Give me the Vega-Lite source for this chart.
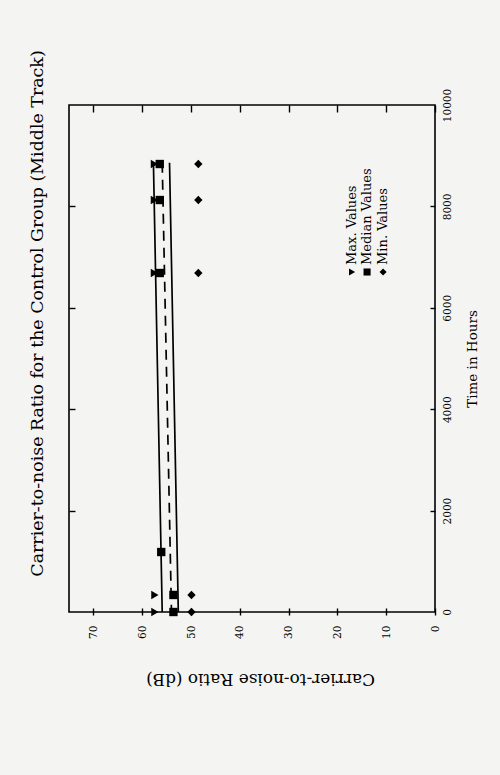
{
  "$schema": "https://vega.github.io/schema/vega-lite/v6.json",
  "width": 366,
  "height": 507,
  "autosize": {"type": "none"},
  "padding": {"left": 69, "top": 105, "right": 65, "bottom": 163},
  "background": "#f4f4f2",
  "config": {
    "view": {"stroke": "black", "strokeWidth": 1.6},
    "font": "DejaVu Serif",
    "axis": {"labelFont": "DejaVu Serif", "titleFont": "DejaVu Serif", "labelColor": "black", "titleColor": "black", "tickColor": "black", "tickWidth": 1.4, "grid": false, "domain": false}
  },
  "title": {
    "text": "Carrier-to-noise Ratio for the Control Group (Middle Track)",
    "orient": "left",
    "anchor": "middle",
    "font": "DejaVu Serif",
    "fontSize": 17.4,
    "fontWeight": "normal",
    "color": "black",
    "offset": 22,
    "dx": 45
  },
  "datasets": {
    "points": [
      {"stat": "Max. Values", "hours": 0, "cn": 57.4},
      {"stat": "Max. Values", "hours": 336, "cn": 57.4},
      {"stat": "Max. Values", "hours": 6686, "cn": 57.5},
      {"stat": "Max. Values", "hours": 8126, "cn": 57.5},
      {"stat": "Max. Values", "hours": 8836, "cn": 57.5},
      {"stat": "Median Values", "hours": 0, "cn": 53.6},
      {"stat": "Median Values", "hours": 336, "cn": 53.6},
      {"stat": "Median Values", "hours": 1183, "cn": 56.1},
      {"stat": "Median Values", "hours": 6686, "cn": 56.4},
      {"stat": "Median Values", "hours": 8126, "cn": 56.4},
      {"stat": "Median Values", "hours": 8836, "cn": 56.4},
      {"stat": "Min. Values", "hours": 0, "cn": 49.9},
      {"stat": "Min. Values", "hours": 336, "cn": 49.9},
      {"stat": "Min. Values", "hours": 6686, "cn": 48.5},
      {"stat": "Min. Values", "hours": 8126, "cn": 48.5},
      {"stat": "Min. Values", "hours": 8836, "cn": 48.5}
    ],
    "fits": [
      {"fit": "upper", "hours": 0, "cn": 55.9},
      {"fit": "upper", "hours": 8860, "cn": 57.7},
      {"fit": "center", "hours": 0, "cn": 54.0},
      {"fit": "center", "hours": 8860, "cn": 55.9},
      {"fit": "lower", "hours": 0, "cn": 52.6},
      {"fit": "lower", "hours": 8860, "cn": 54.4}
    ],
    "one": [{}]
  },
  "layer": [
    {
      "data": {"name": "fits"},
      "mark": {"type": "line", "color": "black", "strokeWidth": 1.7},
      "encoding": {
        "x": {"field": "cn", "type": "quantitative", "scale": {"domain": [0, 75], "reverse": true, "nice": false, "zero": false},
          "axis": {"orient": "top", "values": [0, 10, 20, 30, 40, 50, 60, 70], "labels": false, "title": null, "offset": -7, "tickSize": 7}},
        "y": {"field": "hours", "type": "quantitative", "scale": {"domain": [0, 10000], "nice": false},
          "axis": {"orient": "left", "values": [2000, 4000, 6000, 8000], "labels": false, "title": null, "offset": -6, "tickSize": 6}},
        "detail": {"field": "fit"},
        "strokeDash": {"field": "fit", "type": "nominal", "scale": {"domain": ["upper", "center", "lower"], "range": [[1, 0], [10, 7], [1, 0]]}, "legend": null}
      }
    },
    {
      "data": {"name": "fits"},
      "mark": {"type": "line", "color": "black", "strokeWidth": 1.7, "opacity": 0},
      "encoding": {
        "x": {"field": "cn", "type": "quantitative", "axis": null},
        "y": {"field": "hours", "type": "quantitative",
          "axis": {"orient": "right", "values": [2000, 4000, 6000, 8000], "labels": false, "title": null, "offset": -5, "tickSize": 5}},
        "detail": {"field": "fit"}
      }
    },
    {
      "data": {"name": "points"},
      "mark": {"type": "point", "filled": true, "color": "black", "opacity": 1, "size": 70},
      "encoding": {
        "x": {"field": "cn", "type": "quantitative",
          "axis": {"orient": "bottom", "values": [0, 10, 20, 30, 40, 50, 60, 70], "labelAngle": 270, "labelFontSize": 10.5, "labelPadding": 10, "offset": -4, "tickSize": 7,
            "title": "Carrier-to-noise Ratio (dB)", "titleAngle": 180, "titleFontSize": 16.9, "titleFontWeight": "normal", "titlePadding": 48, "titleX": 191}},
        "y": {"field": "hours", "type": "quantitative",
          "axis": {"orient": "right", "values": [0, 2000, 4000, 6000, 8000, 10000], "format": "d", "labelAngle": 270, "labelFontSize": 10.5, "labelPadding": 7, "ticks": false,
            "title": "Time in Hours", "titleAngle": 270, "titleFontSize": 13.5, "titleFontWeight": "normal", "titlePadding": 27}},
        "shape": {"field": "stat", "type": "nominal",
          "scale": {"domain": ["Max. Values", "Median Values", "Min. Values"], "range": ["triangle-right", "square", "diamond"]},
          "legend": null
        }
      }
    },
    {
      "data": {"name": "one"},
      "mark": {"type": "point", "filled": true, "color": "black", "opacity": 1, "size": 50},
      "encoding": {"x": {"datum": 16.99, "type": "quantitative", "axis": null}, "y": {"datum": 6706, "type": "quantitative", "axis": null}, "shape": {"datum": "Max. Values", "type": "nominal", "legend": null}}
    },
    {
      "data": {"name": "one"},
      "mark": {"type": "point", "filled": true, "color": "black", "opacity": 1, "size": 50},
      "encoding": {"x": {"datum": 13.92, "type": "quantitative", "axis": null}, "y": {"datum": 6706, "type": "quantitative", "axis": null}, "shape": {"datum": "Median Values", "type": "nominal", "legend": null}}
    },
    {
      "data": {"name": "one"},
      "mark": {"type": "point", "filled": true, "color": "black", "opacity": 1, "size": 50},
      "encoding": {"x": {"datum": 10.64, "type": "quantitative", "axis": null}, "y": {"datum": 6706, "type": "quantitative", "axis": null}, "shape": {"datum": "Min. Values", "type": "nominal", "legend": null}}
    },
    {
      "data": {"name": "one"},
      "mark": {"type": "text", "text": "Max. Values", "angle": 270, "align": "left", "baseline": "middle", "font": "DejaVu Serif", "fontSize": 13, "color": "black"},
      "encoding": {"x": {"datum": 16.99, "type": "quantitative", "axis": null}, "y": {"datum": 6845, "type": "quantitative", "axis": null}}
    },
    {
      "data": {"name": "one"},
      "mark": {"type": "text", "text": "Median Values", "angle": 270, "align": "left", "baseline": "middle", "font": "DejaVu Serif", "fontSize": 13, "color": "black"},
      "encoding": {"x": {"datum": 13.92, "type": "quantitative", "axis": null}, "y": {"datum": 6845, "type": "quantitative", "axis": null}}
    },
    {
      "data": {"name": "one"},
      "mark": {"type": "text", "text": "Min. Values", "angle": 270, "align": "left", "baseline": "middle", "font": "DejaVu Serif", "fontSize": 13, "color": "black"},
      "encoding": {"x": {"datum": 10.64, "type": "quantitative", "axis": null}, "y": {"datum": 6845, "type": "quantitative", "axis": null}}
    }
  ],
  "resolve": {"axis": {"x": "independent", "y": "independent"}}
}
